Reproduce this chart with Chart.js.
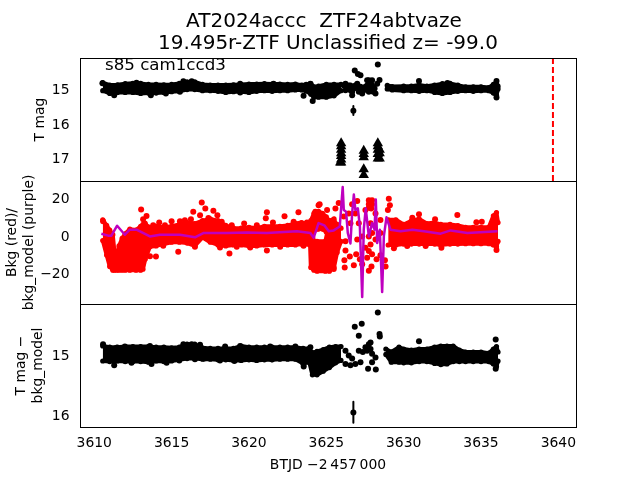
<!DOCTYPE html>
<html><head><meta charset="utf-8">
<style>html,body{margin:0;padding:0;background:#fff}canvas{display:block}</style>
<script src="https://cdn.jsdelivr.net/npm/chart.js@4"></script></head>
<body><canvas id="c" width="640" height="480"></canvas>
<script>
const xTicks=[3610,3615,3620,3625,3630,3635,3640];
const topTicks=[15,16,17], midTicks=[-20,0,20], botTicks=[15,16];
const titleLines=['AT2024accc  ZTF24abtvaze','19.495r-ZTF Unclassified z= -99.0'];
const topT1=[3610.55,3611,3611.5,3612,3612.5,3613,3613.5,3614,3614.5,3615,3615.5,3616,3616.5,3617,3617.5,3618,3618.5,3619,3619.5,3620,3620.5,3621,3621.5,3622,3622.5,3623,3623.4,3623.7,3624,3624.2,3624.5,3625,3625.5,3625.95];
const topHi1=[14.82,14.89,14.88,14.85,14.84,14.84,14.87,14.87,14.88,14.87,14.84,14.8,14.8,14.87,14.89,14.89,14.89,14.88,14.87,14.86,14.86,14.85,14.86,14.86,14.87,14.86,14.89,14.87,14.85,14.94,14.92,14.87,14.87,14.87];
const topLo1=[15.05,15.13,15.1,15.1,15.1,15.13,15.12,15.12,15.1,15.08,15.07,15.02,15.02,15.05,15.05,15.07,15.1,15.08,15.08,15.1,15.07,15.05,15.07,15.05,15.05,15.03,15.03,15.06,15.15,15.24,15.24,15.24,15.2,15.05];
const topT2=[3628.94,3629.26,3630,3630.5,3631,3631.5,3632,3632.5,3633,3633.5,3634,3634.5,3635,3635.5,3635.8,3636,3636.1];
const topHi2=[14.9,14.93,14.92,14.92,14.89,14.92,14.89,14.85,14.84,14.89,14.94,14.94,14.94,14.96,14.87,14.8,14.92];
const topLo2=[15.0,15.03,15.05,15.05,15.07,15.05,15.1,15.13,15.1,15.07,15.05,15.07,15.05,15.05,15.12,15.18,15.0];
const topScatT=[3626.84,3627.21,3627.04,3628.33,3628.44,3626.75,3626.67,3626.24,3626.24,3626.45,3626.56,3627,3627.1,3627.32,3626.78,3627.21,3627.64,3627.86,3627.96,3627.75,3628.18,3627.86,3627.53,3628.29,3626.56,3626.67,3626.88,3627.1,3627.42,3627.64,3627.75,3628.03,3628.12,3626.34,3626.13,3627.75,3627.96];
const topScatM=[14.47,14.61,14.57,14.3,14.74,15.63,15.18,14.85,15.04,14.9,15.04,14.85,15.08,15.13,14.99,14.94,14.75,14.8,14.9,15.08,15.13,14.99,14.94,14.85,14.9,15.08,14.9,14.99,15.04,14.9,14.99,15.08,14.99,14.96,14.9,14.75,14.75];
const topEdgeT=[3610.53,3612.73,3615.76,3616.3,3619.43,3621.59,3623.97,3611.29,3613.66,3614.63,3615.54,3619.43,3623.53,3624.12,3630.99,3636,3636,3632.83];
const topEdgeM=[14.84,14.82,14.78,14.78,14.85,14.85,14.85,15.18,15.18,15.13,15.08,15.1,15.2,15.35,14.77,14.77,15.25,14.83];
const topErrT=[3626.75,3626.75], topErrM=[15.49,15.75];
const limT=[3625.96,3625.96,3625.96,3625.96,3625.96,3625.96,3625.96,3625.9,3627.42,3627.42,3627.42,3627.42,3627.42,3628.33,3628.33,3628.33,3628.33,3628.33,3628.45,3628.45,3628.45];
const limM=[16.56,16.65,16.75,16.85,16.93,17.03,17.12,17.12,16.78,16.87,16.97,17.31,17.48,16.56,16.65,16.75,16.87,17.0,16.75,16.85,17.0];
const alertT=[3639.65,3639.65], alertM=[14.11,17.65];

const redT1=[3610.55,3610.8,3611,3611.2,3611.3,3611.45,3611.6,3611.8,3612,3612.3,3612.7,3613,3613.15,3613.3,3613.6,3614,3614.5,3615,3615.5,3616,3616.5,3617,3617.5,3618,3618.5,3619,3619.5,3620,3620.5,3621,3621.5,3622,3622.5,3623,3623.4,3623.95,3624,3624.2,3624.4,3624.94,3625.2,3625.5,3625.7,3625.95];
const redHi1=[8.5,5.5,3,0.5,-8,-11,-5.5,-1.5,1,3.5,3,5,6,6,4.5,5,4.5,5,6,7,6.5,8,9,8,5.5,4,4,4.5,4,5,5,5,5.5,6.5,7,6,7,-3,-3,-3,7,8,6,4];
const redLo1=[-2.6,-10.4,-16.5,-18.5,-18.5,-18.5,-18.5,-18.5,-18.5,-18.5,-18.5,-18.5,-18,-12.5,-6,-5.5,-4.5,-3.5,-3.5,-4,-5.5,-1,-3.5,-5,-5.5,-5,-5,-5.5,-5.5,-5,-5,-5,-5,-5,-4.5,-5,-17,-18.5,-19,-19,-19,-17,-9,-3];
const redT2=[3624.0,3624.2,3624.5,3624.75,3625,3625.2,3625.5];
const redHi2=[8,12,13,12,10,8,9];
const redLo2=[0,2.5,3.5,3.5,2,0,0];
const redT3=[3629,3629.5,3630,3630.5,3631,3631.5,3632,3632.4,3633,3633.5,3634,3634.5,3635,3635.5,3635.8,3636,3636.1];
const redHi3=[8.5,8.5,6,8,9,6.5,7,6,6,5.4,4.5,4.5,4.5,4.5,10.6,12.4,7];
const redLo3=[-5,-5,-4.5,-4.5,-4.5,-4.5,-4.5,-5,-4.5,-4.5,-4.3,-4.3,-4.3,-4.3,-5,-6,-3];
const redScatT=[3613.03,3616.95,3615.43,3613.99,3618.74,3621.16,3621.16,3621.09,3622.3,3623.2,3616.4,3617.18,3617.7,3613.38,3613.16,3633.47,3634.7,3635.05,3636,3632.44,3625.48,3625.8,3626.67,3627,3626.88,3626.24,3626.24,3626.52,3626.17,3626.19,3626.93,3626.78,3627.32,3627.53,3627.86,3627.75,3627.64,3627.96,3627.75,3627.92,3628.25,3628.5,3628.79,3628.83,3627.75,3627.96,3627.75,3627.96,3627.75,3627.9,3629.04,3629.11,3628.98,3628.18,3627.1,3626.56,3626.45,3627.53,3628.5,3628.18,3627.32,3627.17,3627.86,3627.75,3626.13,3627.0,3627.96,3628.5];
const redScatV=[14,17.7,-8.6,-11.2,-9.6,-7.9,12.5,9.3,10.4,12.5,12.8,14.6,13.3,10.5,8.8,11,7.2,7.5,-7.7,-6.5,-17.9,17.5,16.8,18.6,11.9,-3,-7.9,-11.2,-13.2,-17,-10,-15.8,-0.4,-6.5,-4.7,-8.2,-11.8,-10,-18.8,-16.5,-12.6,-10.5,-13.2,-16.5,18.9,18.9,16.8,16.8,15,14.6,19.8,16.3,13.7,11.9,6.7,6.7,11.9,13.7,8.4,-2.1,-15.3,-12.6,6.7,-0.4,10.2,-2.1,1.4,1.4];
const redEdgeT=[3610.57,3613.27,3613.81,3614.2,3614.57,3615,3615.54,3615.86,3616.25,3616.84,3617.38,3617.96,3618.24,3618.89,3619.69,3620.51,3621.55,3622.89,3623.75,3624.5,3625.05,3624.29,3624.57,3625.59,3630.99,3630.56,3632.03,3613.6,3614.46,3616.51,3618.13,3619.21,3620.08,3622.02,3623.53,3630.23,3631.42,3629.37];
const redEdgeV=[7.7,6.5,5.6,7,5.6,7.7,7.7,8.2,8.8,10.9,9.5,10.9,7.4,5.6,6.5,5.6,7,7.4,7,16.3,13.7,12.8,16.8,14.6,11.4,9.6,8.8,-11,-5.4,-6,-6.3,-6,-6.3,-6,-5.4,-5.6,-5.6,-6.8];
const modelT=[3610.46,3610.9,3611.11,3611.48,3611.98,3612.3,3612.73,3613.6,3614.25,3615.54,3616.51,3617.05,3618.57,3619.86,3621.16,3623.1,3623.97,3624.18,3624.5,3624.87,3625.16,3625.48,3625.87,3625.98,3626.06,3626.13,3626.28,3626.39,3626.56,3626.67,3626.78,3626.88,3627.04,3627.17,3627.32,3627.42,3627.55,3627.75,3627.96,3628.12,3628.2,3628.29,3628.46,3628.61,3628.72,3628.89,3629.15,3629.8,3630.56,3631.31,3632.39,3633.04,3634.12,3636.07];
const modelV=[1.05,0,0,5.3,0.5,3.2,3.2,-0.4,0.5,0.5,-0.9,1.4,1.4,1.75,1.4,2.3,1.4,-1.2,6.7,5.5,2.3,2.8,4.9,17,26,13.7,12.8,1.4,-4.2,11.9,22,13.7,14.6,4.9,-32.8,3.2,14.6,-0.4,6.7,3.2,19.3,-3.9,3.2,-30.2,-0.4,9.8,3.2,2.3,3.2,2.3,1.05,2.8,1.4,2.3];

const botT1=[3610.55,3611,3611.5,3612,3612.5,3613,3613.5,3614,3614.5,3615,3615.5,3616,3616.5,3617,3617.5,3618,3618.5,3619,3619.5,3620,3620.5,3621,3621.5,3622,3622.5,3623,3623.5,3623.9,3624.1,3624.4,3624.8,3625.2,3625.6,3625.95];
const botHi1=[14.85,14.87,14.87,14.86,14.86,14.86,14.86,14.87,14.87,14.88,14.87,14.82,14.82,14.88,14.89,14.89,14.89,14.89,14.85,14.87,14.87,14.87,14.87,14.87,14.87,14.87,14.89,14.89,14.96,14.94,14.91,14.87,14.86,14.86];
const botLo1=[15.1,15.11,15.1,15.11,15.11,15.11,15.12,15.1,15.11,15.1,15.08,15.06,15.06,15.07,15.07,15.08,15.08,15.09,15.09,15.08,15.09,15.08,15.08,15.07,15.07,15.07,15.14,15.12,15.33,15.33,15.27,15.21,15.13,15.09];
const botT2=[3628.85,3629.2,3629.7,3630,3630.5,3631,3631.5,3632,3632.4,3632.8,3633.2,3633.6,3634,3634.5,3635,3635.5,3635.8,3636,3636.1];
const botHi2=[14.9,14.95,14.87,14.9,14.92,14.9,14.9,14.87,14.85,14.85,14.85,14.92,14.95,14.95,14.95,14.97,14.9,14.86,14.95];
const botLo2=[14.99,15.12,15.12,15.13,15.13,15.11,15.11,15.14,15.16,15.15,15.11,15.11,15.11,15.11,15.11,15.11,15.15,15.19,15.1];
const botScatT=[3628.33,3626.84,3627.29,3627.1,3628.44,3628.46,3630.99,3626.75,3626.24,3626.24,3626.56,3626.88,3627.21,3626.67,3627.1,3627.75,3627.86,3627.64,3627.96,3628.18,3627.96,3627.7,3628.2,3627.86,3627.53,3627.36,3626.45,3623.54,3635.95,3635.95];
const botScatM=[14.29,14.53,14.48,14.68,14.65,14.69,14.77,15.96,14.93,15.15,15.17,15.15,15.12,15.06,14.93,14.82,14.79,14.93,14.98,15.04,15.12,15.23,15.24,14.9,14.87,14.95,15.01,15.19,14.74,15.23];
const botEdgeT=[3610.57,3610.9,3611.44,3611.98,3613.6,3615.76,3616.3,3616.84,3618.46,3619.43,3621.37,3623,3623.97,3611.29,3612.41,3613.7,3614.68,3615.5,3616.51,3617.1,3618.13,3619.06,3620.4,3621.48,3623.53];
const botEdgeM=[14.82,14.89,14.88,14.86,14.85,14.82,14.82,14.83,14.86,14.85,14.86,14.86,14.87,15.17,15.13,15.15,15.13,15.09,15.07,15.06,15.09,15.1,15.07,15.07,15.15];
const botErrT=[3626.75,3626.75], botErrM=[15.78,16.13];

const FONT='"DejaVu Sans"';
const zip=(a,b)=>a.map((x,i)=>({x,y:b[i]}));
function dots(a,b,axis,color,r=3,style='circle'){return {data:zip(a,b),yAxisID:axis,showLine:false,pointRadius:r,pointHoverRadius:r,pointBackgroundColor:color,pointBorderColor:color,pointBorderWidth:0,pointStyle:style};}
function path(a,b,axis,color,w,dash){return {data:zip(a,b),yAxisID:axis,showLine:true,pointRadius:0,borderColor:color,borderWidth:w,borderDash:dash||[],tension:0,borderJoinStyle:'round'};}
function band(t,hi,lo,axis,color){
  const edge=(v)=>({data:zip(t,v),yAxisID:axis,showLine:true,tension:0,borderColor:color,borderWidth:4,borderCapStyle:'round',borderJoinStyle:'round',pointRadius:2.6,pointBackgroundColor:color,pointBorderWidth:0,backgroundColor:color});
  const u=edge(hi), l=edge(lo); l.fill='-1'; return [u,l];
}
const datasets=[
  path(modelT,modelV,'yM','#bf00bf',2.5),
  path(alertT,alertM,'yT','#ff0000',2,[6,3]),
  dots(limT,limM,'yT','#000',6,'triangle'),
  dots(topScatT,topScatM,'yT','#000'),
  dots(topEdgeT,topEdgeM,'yT','#000'),
  path(topErrT,topErrM,'yT','#000',2),
  ...band(topT1,topHi1,topLo1,'yT','#000'),
  ...band(topT2,topHi2,topLo2,'yT','#000'),
  dots(redScatT,redScatV,'yM','#ff0000'),
  dots(redEdgeT,redEdgeV,'yM','#ff0000'),
  ...band(redT1,redHi1,redLo1,'yM','#ff0000'),
  ...band(redT2,redHi2,redLo2,'yM','#ff0000'),
  ...band(redT3,redHi3,redLo3,'yM','#ff0000'),
  dots(botScatT,botScatM,'yB','#000'),
  dots(botEdgeT,botEdgeM,'yB','#000'),
  path(botErrT,botErrM,'yB','#000',2),
  ...band(botT1,botHi1,botLo1,'yB','#000'),
  ...band(botT2,botHi2,botLo2,'yB','#000')
];
function yAxis(min,max,rev,vals,title,pad){
  return {type:'linear',position:'left',stack:'p',stackWeight:1,min,max,reverse:rev,
    afterBuildTicks:s=>{s.ticks=vals.map(v=>({value:v}));},
    afterFit:s=>{s.width=80;},
    grid:{display:false,drawTicks:true,tickLength:5,tickColor:'#000',drawOnChartArea:false},
    border:{display:true,color:'#000',width:1},
    ticks:{display:false},
    title:{display:true,text:title,color:'#000',font:{family:FONT,size:13.9,lineHeight:1.2},padding:{top:pad,bottom:0}}};
}
const frame={id:'frame',afterDatasetsDraw(c){
  const g=c.ctx,a=c.chartArea;
  g.save();g.strokeStyle='#000';g.lineWidth=1;
  ['yT','yM','yB'].forEach(k=>{const s=c.scales[k];g.strokeRect(Math.round(a.left)+.5,Math.round(s.top)+.5,Math.round(a.width),Math.round(s.bottom-s.top));});
  g.fillStyle='#000';g.textBaseline='alphabetic';
  g.font='13.9px '+FONT;g.textAlign='right';
  [['yT',topTicks],['yM',midTicks],['yB',botTicks]].forEach(([k,vals])=>{
    vals.forEach(v=>g.fillText(String(v).replace('-','\u2212'),69.5,Math.round(c.scales[k].getPixelForValue(v))+5));
  });
  g.font='16.67px '+FONT;g.textAlign='left';g.fillText('s85 cam1ccd3',105,70);
  g.font='20px '+FONT;g.textAlign='center';
  g.fillText(titleLines[0],324,27);g.fillText(titleLines[1],328,49);
  g.restore();
}};
new Chart(document.getElementById('c'),{type:'scatter',data:{datasets},plugins:[frame],options:{
  responsive:false,animation:false,events:[],
  layout:{padding:{left:0,right:64,top:58,bottom:0}},
  plugins:{legend:{display:false},tooltip:{enabled:false},title:{display:false}},
  scales:{
    x:{type:'linear',position:'bottom',min:3609.08,max:3641.14,
      afterBuildTicks:s=>{s.ticks=xTicks.map(v=>({value:v}));},
      afterFit:s=>{s.height=53;},
      grid:{display:false,drawTicks:true,tickLength:5,tickColor:'#000',drawOnChartArea:false},
      border:{display:true,color:'#000'},
      ticks:{color:'#000',font:{family:FONT,size:13.9},padding:3,autoSkip:false,maxRotation:0,callback:v=>String(v)},
      title:{display:true,text:'BTJD \u22122\u2009457\u2009000',color:'#000',font:{family:FONT,size:13.9},padding:{top:4,bottom:6}}},
    yB:yAxis(14.15,16.2,true,botTicks,['T mag \u2212','bkg_model'],13),
    yM:yAxis(-36.6,29.26,false,midTicks,['Bkg (red)/','bkg_model (purple)'],4),
    yT:yAxis(14.11,17.65,true,topTicks,'T mag',32)
  }}});
</script></body></html>
